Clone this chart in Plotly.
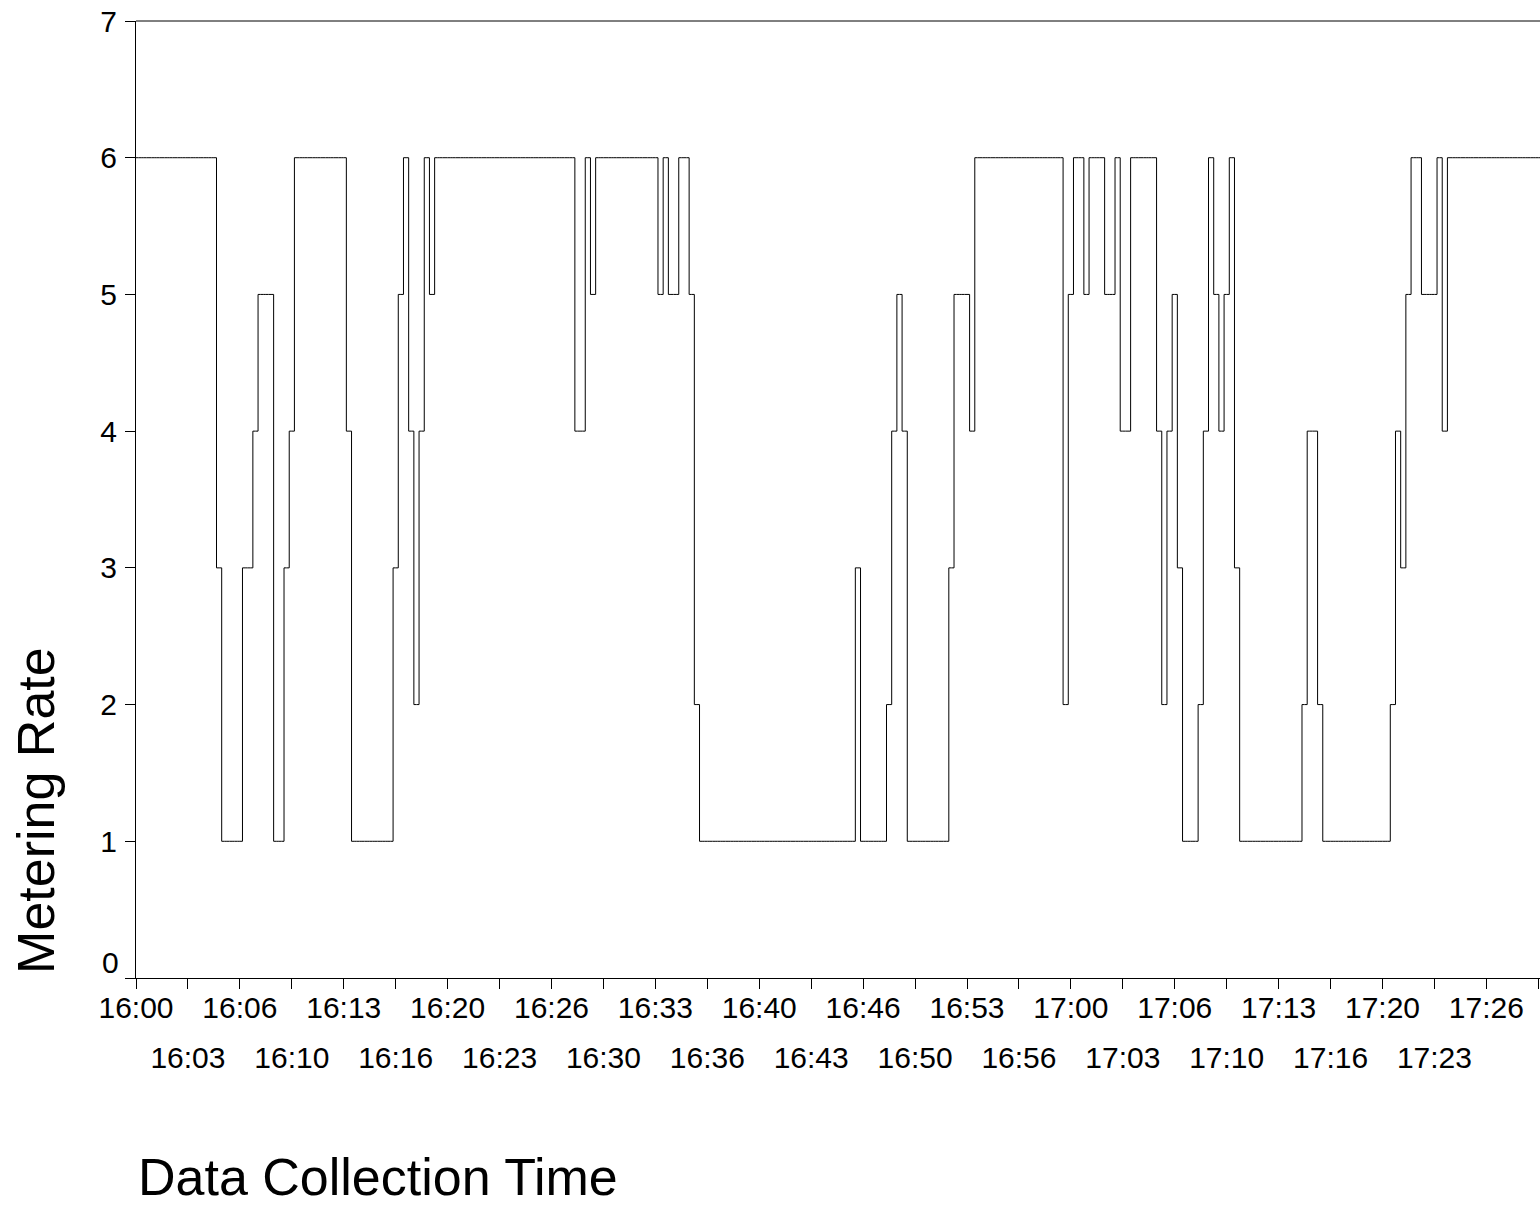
import plotly.graph_objects as go
import pandas as pd

START_TIME = "2024-01-01 16:00:00"
SAMPLE_SECONDS = 20
TICK_SECONDS = 200

# Metering rate, one value per 20-second observation starting at 16:00:00
metering_rate = [
    6, 6, 6, 6, 6, 6, 6, 6, 6, 6,
    6, 6, 6, 6, 6, 6, 3, 1, 1, 1,
    1, 3, 3, 4, 5, 5, 5, 1, 1, 3,
    4, 6, 6, 6, 6, 6, 6, 6, 6, 6,
    6, 4, 1, 1, 1, 1, 1, 1, 1, 1,
    3, 5, 6, 4, 2, 4, 6, 5, 6, 6,
    6, 6, 6, 6, 6, 6, 6, 6, 6, 6,
    6, 6, 6, 6, 6, 6, 6, 6, 6, 6,
    6, 6, 6, 6, 6, 4, 4, 6, 5, 6,
    6, 6, 6, 6, 6, 6, 6, 6, 6, 6,
    6, 5, 6, 5, 5, 6, 6, 5, 2, 1,
    1, 1, 1, 1, 1, 1, 1, 1, 1, 1,
    1, 1, 1, 1, 1, 1, 1, 1, 1, 1,
    1, 1, 1, 1, 1, 1, 1, 1, 1, 3,
    1, 1, 1, 1, 1, 2, 4, 5, 4, 1,
    1, 1, 1, 1, 1, 1, 1, 3, 5, 5,
    5, 4, 6, 6, 6, 6, 6, 6, 6, 6,
    6, 6, 6, 6, 6, 6, 6, 6, 6, 2,
    5, 6, 6, 5, 6, 6, 6, 5, 5, 6,
    4, 4, 6, 6, 6, 6, 6, 4, 2, 4,
    5, 3, 1, 1, 1, 2, 4, 6, 5, 4,
    5, 6, 3, 1, 1, 1, 1, 1, 1, 1,
    1, 1, 1, 1, 1, 2, 4, 4, 2, 1,
    1, 1, 1, 1, 1, 1, 1, 1, 1, 1,
    1, 1, 2, 4, 3, 5, 6, 6, 5, 5,
    5, 6, 4, 6, 6, 6, 6, 6, 6, 6,
    6, 6, 6, 6, 6, 6, 6, 6, 6, 6,
    6, 6,
]

tick_labels = [
    "16:00", "16:03", "16:06", "16:10", "16:13", "16:16", "16:20",
    "16:23", "16:26", "16:30", "16:33", "16:36", "16:40", "16:43",
    "16:46", "16:50", "16:53", "16:56", "17:00", "17:03", "17:06",
    "17:10", "17:13", "17:16", "17:20", "17:23", "17:26", "",
]
y_tick_values = [0, 1, 2, 3, 4, 5, 6, 7]
y_tick_labels = ["", "1", "2", "3", "4", "5", "6", "7"]

times = pd.date_range(START_TIME, periods=len(metering_rate), freq=f"{SAMPLE_SECONDS}s")
tick_times = list(pd.date_range(START_TIME, periods=len(tick_labels), freq=f"{TICK_SECONDS}s"))
x_end = pd.Timestamp(START_TIME) + pd.Timedelta(seconds=5406.5)

FONT = "Liberation Sans, Arial, sans-serif"
TICK_SIZE = 30

top_vals = tick_times[0::2]
top_text = tick_labels[0::2]
bot_vals = tick_times[1::2]
bot_text = tick_labels[1::2]

fig = go.Figure()
fig.add_trace(go.Scatter(
    x=times, y=metering_rate, mode="lines",
    line=dict(shape="hvh", color="black", width=1),
    showlegend=False, hoverinfo="skip",
))
fig.add_trace(go.Scatter(
    x=times, y=metering_rate, mode="lines", xaxis="x2",
    line=dict(width=0), opacity=0, showlegend=False, hoverinfo="skip",
))

fig.update_layout(
    width=1540, height=1209,
    margin=dict(l=136, r=0, t=21, b=231),
    paper_bgcolor="white", plot_bgcolor="white",
    font=dict(family=FONT, color="black"),
    xaxis=dict(
        type="date", range=[tick_times[0], x_end],
        tickmode="array", tickvals=top_vals + bot_vals,
        ticktext=top_text + [""] * len(bot_vals),
        ticks="outside", ticklen=10, tickwidth=1, tickcolor="black",
        showline=True, linecolor="black", linewidth=1, mirror=False,
        showgrid=False, zeroline=False,
        tickfont=dict(size=TICK_SIZE, family=FONT, color="black"),
        ticklabelstandoff=-7,
    ),
    xaxis2=dict(
        type="date", overlaying="x", matches="x", anchor="y", side="bottom",
        tickmode="array", tickvals=bot_vals, ticktext=bot_text,
        ticks="", showline=False, showgrid=False, zeroline=False,
        tickfont=dict(size=TICK_SIZE, family=FONT, color="black"),
        ticklabelstandoff=59,
    ),
    yaxis=dict(
        range=[0, 7], tickmode="array", tickvals=y_tick_values, ticktext=y_tick_labels,
        ticks="outside", ticklen=10, tickwidth=1, tickcolor="black",
        showline=True, linecolor="black", linewidth=1, mirror=False,
        showgrid=False, zeroline=False,
        tickfont=dict(size=TICK_SIZE, family=FONT, color="black"),
        ticklabelstandoff=2,
    ),
    shapes=[dict(type="line", xref="paper", yref="paper", x0=0, x1=1, y0=1, y1=1,
                 line=dict(color="black", width=1))],
    annotations=[
        dict(text="0", xref="paper", yref="y", x=0, y=0, xanchor="right", yanchor="middle",
             xshift=-15, yshift=16, showarrow=False,
             font=dict(size=TICK_SIZE, family=FONT, color="black")),
        dict(text="Metering Rate", xref="paper", yref="paper", x=0, y=0.1746,
             xanchor="center", yanchor="middle", xshift=-100, textangle=-90, showarrow=False,
             font=dict(size=52, family=FONT, color="black")),
        dict(text="Data Collection Time", xref="paper", yref="paper", x=0, y=-0.2076,
             xanchor="left", yanchor="middle", xshift=0, showarrow=False,
             font=dict(size=52, family=FONT, color="black")),
    ],
)

fig.write_html(
    "out.html",
    config={"displayModeBar": False},
    post_script="document.body.style.margin='0';document.body.style.overflow='hidden';",
)
